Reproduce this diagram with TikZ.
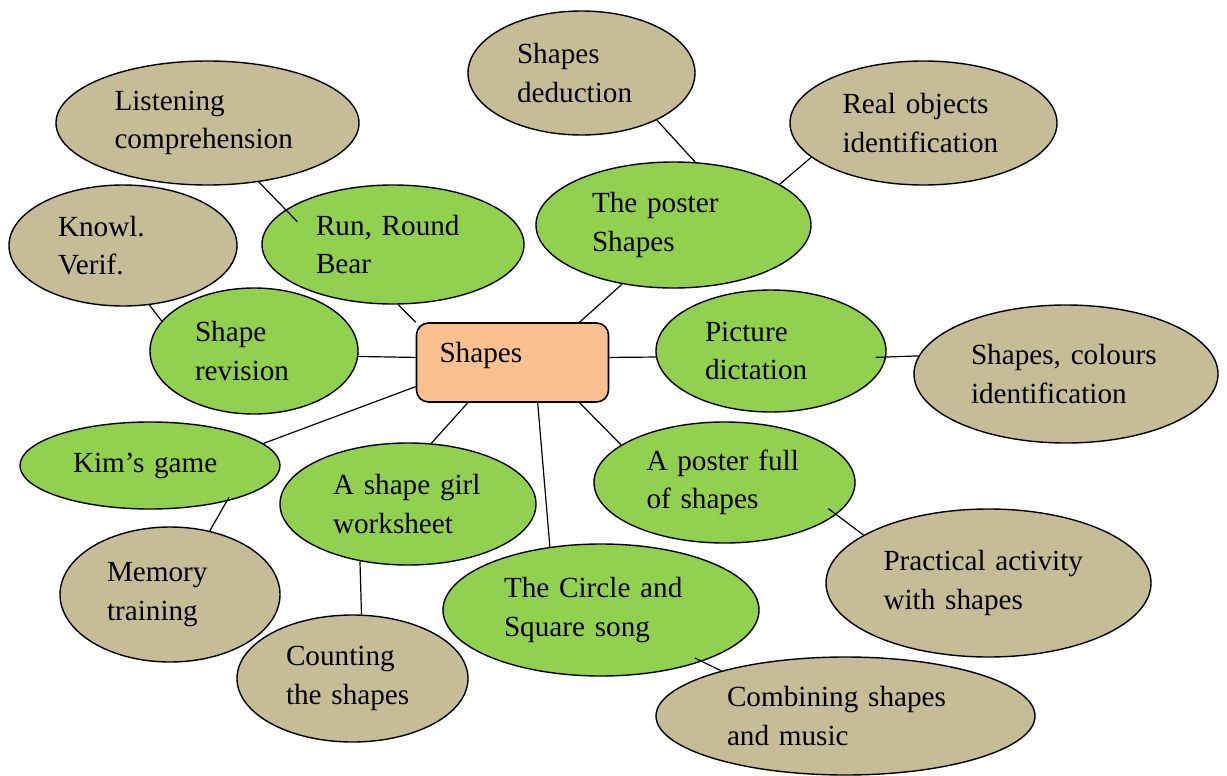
\documentclass[tikz,border=0pt]{standalone}
\usepackage{fontspec}
\setmainfont{Liberation Serif}
\usetikzlibrary{shapes.geometric}
\definecolor{leafgreen}{HTML}{92D050}
\definecolor{khaki}{HTML}{C4BD97}
\definecolor{peach}{HTML}{FAC090}

\begin{document}
\begin{tikzpicture}[x=0.5pt,y=-0.5pt,
  font=\fontsize{14.6pt}{19.25pt}\selectfont,
  bubble/.style n args={3}{ellipse, draw, line width=0.7pt, inner sep=0pt, align=left,
    minimum width=#1pt, minimum height=#2pt, text width=#3pt},
  task/.style n args={3}{bubble={#1}{#2}{#3}, fill=leafgreen},
  aim/.style n args={3}{bubble={#1}{#2}{#3}, fill=khaki},
  link/.style={line width=0.6pt}]
\useasboundingbox (0,0) rectangle (1227,776);
\node[draw, fill=peach, rounded corners=6pt, line width=0.8pt, minimum width=96pt, minimum height=39.5pt,
  inner sep=0pt, text width=73pt, align=left, text height=10pt, text depth=10pt] (hub) at (512.5,362.5) {Shapes};
\node[aim={151.5}{62}{93}] (listen) at (207.5,123) {Listening\\comprehension};
\node[aim={113.5}{62}{64.5}] (deduce) at (581.5,73) {Shapes\\deduction};
\node[aim={133.5}{62}{81}] (real) at (923.5,123) {Real objects\\identification};
\node[aim={114}{60.5}{65}] (knowl) at (123,245.5) {Knowl.\\Verif.};
\node[aim={152}{69}{95}] (colours) at (1066,374) {Shapes, colours\\identification};
\node[aim={110}{67.5}{63}] (memory) at (170,594.5) {Memory\\training};
\node[aim={115.5}{63.5}{66.5}] (count) at (352.5,678.5) {Counting\\the shapes};
\node[aim={162.5}{74}{105}] (practical) at (988.5,583) {Practical activity\\with shapes};
\node[aim={189.5}{59}{118.5}] (combine) at (845.5,716) {Combining shapes\\and music};
\node[task={131}{59.5}{77}] (run) at (393,244.5) {Run, Round\\Bear};
\node[task={137.5}{63}{81.5}] (poster) at (673.5,225) {The poster\\Shapes};
\node[task={104}{63}{59}] (revision) at (254,351) {Shape\\revision};
\node[task={115}{61}{66}] (picture) at (771,351) {Picture\\dictation};
\node[task={130}{43.5}{77}] (kim) at (150,465.5) {Kim’s game};
\node[task={128}{61}{75}] (girl) at (408,504) {A shape girl\\worksheet};
\node[task={158}{66}{97}] (song) at (601,610) {The Circle and\\Square song};
\node[task={130.5}{60.5}{78}] (full) at (724.5,482.5) {A poster full\\of shapes};
\draw[link] (hub.north west) -- (run.-85);
\draw[link] (hub.31) -- (poster.-131);
\draw[link] (hub.177) -- (revision.-3);
\draw[link] (hub.3) -- (picture.183);
\draw[link] (hub.194) -- (kim.11);
\draw[link] (hub.-138) -- (girl.69);
\draw[link] (hub.-58) -- (song.129);
\draw[link] (hub.-31) -- (full.160);
\draw[link, shorten >=-8.5pt] (listen.-49) -- (run.162);
\draw[link] (deduce.-32) -- (poster.71);
\draw[link] (real.197) -- (poster.21);
\draw[link] (knowl.-66) -- (revision.162);
\draw[link, shorten <=-5.25pt] (picture.-3) -- (colours.173);
\draw[link, shorten <=-2.25pt] (kim.-25) -- (memory.58);
\draw[link] (girl.-130) -- (count.82);
\draw[link, shorten <=-5pt] (full.-16) -- (practical.159);
\draw[link, shorten <=-4pt] (song.-27) -- (combine.160);
\end{tikzpicture}
\end{document}
